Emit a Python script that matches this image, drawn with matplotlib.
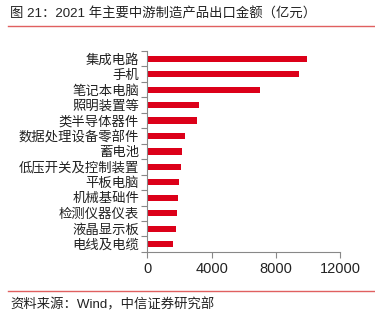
import matplotlib.pyplot as plt
import numpy as np

plt.rcParams['font.family'] = ['Liberation Sans', 'Noto Sans CJK SC', 'DejaVu Sans']

categories = ['集成电路', '手机', '笔记本电脑', '照明装置等', '类半导体器件',
              '数据处理设备零部件', '蓄电池', '低压开关及控制装置', '平板电脑',
              '机械基础件', '检测仪器仪表', '液晶显示板', '电线及电缆']
values = [9920, 9440, 7010, 3210, 3090, 2340, 2130, 2070, 1990, 1900, 1840, 1800, 1590]
xticks = [0, 4000, 8000, 12000]

fig = plt.figure(figsize=(3.75, 3.23), dpi=100)
ax = fig.add_axes([0.393, 0.220, 0.514, 0.622])

n = len(categories)
ypos = np.arange(n)
ax.barh(ypos, values, height=0.4, color='#DC0019')
ax.set_ylim(n - 0.5, -0.5)
ax.set_xlim(0, 12000)

# category names as major labels, tick marks at the bar boundaries
ax.set_yticks(ypos)
ax.set_yticklabels(categories, fontsize=9.6, color='#222222')
ax.tick_params(axis='y', which='major', length=0, pad=6)
ax.set_yticks(np.arange(n + 1) - 0.5, minor=True)
ax.tick_params(axis='y', which='minor', length=4, color='#888888', width=0.8)

ax.set_xticks(xticks)
ax.set_xticklabels([str(t) for t in xticks], fontsize=10.5, color='#222222')
ax.tick_params(axis='x', length=4, color='#888888', width=0.8, pad=3)

for s in ['top', 'right']:
    ax.spines[s].set_visible(False)
for s in ['left', 'bottom']:
    ax.spines[s].set_color('#888888')
    ax.spines[s].set_linewidth(0.8)

fig.text(0.027, 0.955, '图 21：2021 年主要中游制造产品出口金额（亿元）', fontsize=9.6,
         va='center', ha='left', color='#222222')
fig.add_artist(plt.Line2D([0.022, 1.0], [0.918, 0.918], color='#E06060', lw=1.0))
fig.add_artist(plt.Line2D([0.022, 1.0], [0.099, 0.099], color='#E06060', lw=1.0))
fig.text(0.027, 0.057, '资料来源：Wind，中信证券研究部', fontsize=9.6,
         va='center', ha='left', color='#222222')

fig.savefig('out.png', dpi=100)
